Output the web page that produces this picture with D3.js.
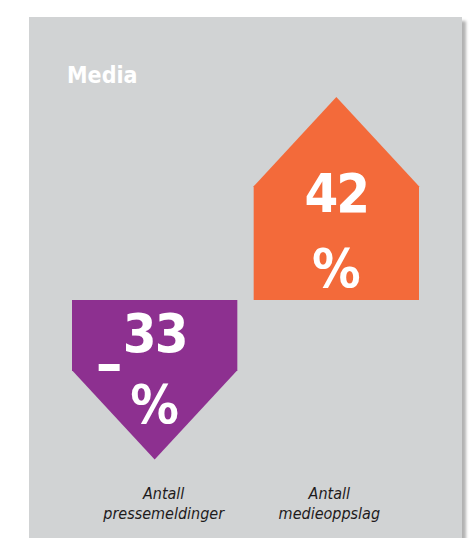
<!DOCTYPE html>
<html>
<head>
<meta charset="utf-8">
<script src="https://cdn.jsdelivr.net/npm/d3@7"></script>
<style>
  body { margin: 0; background: #fff; }
  text { font-family: "DejaVu Sans Condensed", "DejaVu Sans", sans-serif; }
</style>
</head>
<body>
<div id="chart"></div>
<script>
// data
const title = "Media";
const categories = ["Antall pressemeldinger", "Antall medieoppslag"];
const labelLines = [["Antall", "pressemeldinger"], ["Antall", "medieoppslag"]];
const values = [-33, 42];
const colors = ["#8d3090", "#f36a3a"];

const WIDTH = 471, HEIGHT = 538;
const BASE = 300;

const svg = d3.select("#chart")
    .append("svg")
    .attr("width", WIDTH)
    .attr("height", HEIGHT);

// drop shadow for the grey panel
const defs = svg.append("defs");
const f = defs.append("filter").attr("id", "shadow")
    .attr("x", "-5%").attr("y", "-5%").attr("width", "115%").attr("height", "115%");
f.append("feDropShadow")
    .attr("dx", 4).attr("dy", 4).attr("stdDeviation", 1.5)
    .attr("flood-color", "#000").attr("flood-opacity", 0.3);

svg.append("rect")
    .attr("x", 29).attr("y", 17)
    .attr("width", 433).attr("height", 540)
    .attr("fill", "#d1d3d4")
    .attr("filter", "url(#shadow)");

svg.append("text")
    .attr("x", 67).attr("y", 83)
    .attr("fill", "#fff")
    .attr("font-size", 23)
    .attr("font-weight", "bold")
    .text(title);

// scales
const x = d3.scaleBand()
    .domain(categories)
    .range([72, 419])
    .paddingInner(0.09);

const y = d3.scaleLinear()
    .domain([0, 42])
    .range([BASE, 97]);

const data = categories.map((c, i) => ({ cat: c, value: values[i], color: colors[i], lines: labelLines[i] }));

// arrow shaped bars: body plus a pointed head
function arrowPath(d) {
    const x0 = x(d.cat), x1 = x0 + x.bandwidth(), xm = x0 + x.bandwidth() / 2;
    const tip = y(d.value);
    const head = x.bandwidth() * 0.54;
    const shoulder = d.value >= 0 ? tip + head : tip - head;
    return `M${x0},${y(0)}L${x0},${shoulder}L${xm},${tip}L${x1},${shoulder}L${x1},${y(0)}Z`;
}

svg.selectAll("path.bar")
    .data(data)
    .enter().append("path")
    .attr("class", "bar")
    .attr("d", arrowPath)
    .attr("fill", d => d.color);

// value text
const vals = svg.selectAll("g.val")
    .data(data)
    .enter().append("g")
    .attr("class", "val")
    .attr("transform", d => `translate(${x(d.cat) + x.bandwidth() / 2},${y(0)})`)
    .attr("fill", "#fff")
    .attr("font-weight", "bold")
    .attr("text-anchor", "middle");

vals.append("text")
    .attr("y", d => d.value >= 0 ? -88 : 52)
    .attr("font-size", 54)
    .attr("letter-spacing", -2)
    .text(d => Math.abs(d.value));

vals.append("text")
    .attr("y", d => d.value >= 0 ? -13 : 123)
    .attr("font-size", 54)
    .text("%");

vals.filter(d => d.value < 0).append("rect")
    .attr("x", -56).attr("y", 64)
    .attr("width", 21).attr("height", 7)
    .attr("fill", "#fff");

// category labels
const labels = svg.selectAll("text.label")
    .data(data)
    .enter().append("text")
    .attr("class", "label")
    .attr("x", (d, i) => x(d.cat) + x.bandwidth() / 2 + (i === 0 ? 9 : -7))
    .attr("y", 499)
    .attr("text-anchor", "middle")
    .attr("font-size", 16)
    .attr("font-style", "italic")
    .attr("fill", "#1e1b1c");

labels.selectAll("tspan")
    .data(d => d.lines)
    .enter().append("tspan")
    .attr("x", function () { return d3.select(this.parentNode).attr("x"); })
    .attr("dy", (d, i) => i === 0 ? 0 : 20)
    .text(d => d);
</script>
</body>
</html>
